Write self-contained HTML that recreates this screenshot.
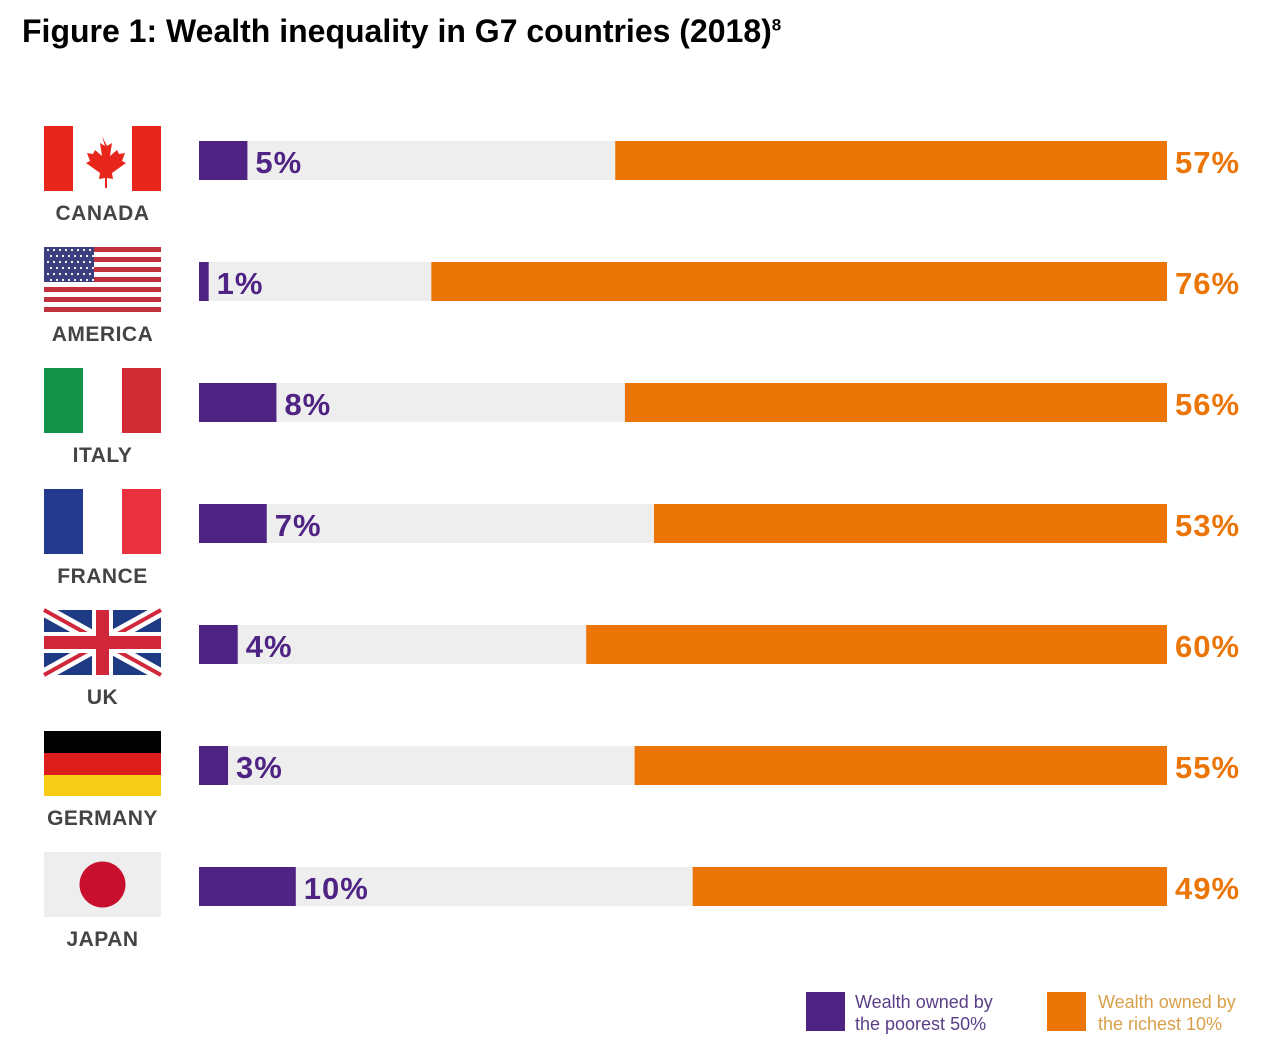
<!DOCTYPE html>
<html><head><meta charset="utf-8"><style>
body{margin:0;background:#fff;width:1267px;height:1060px;overflow:hidden;font-family:"Liberation Sans",sans-serif}
#title{position:absolute;left:22px;top:13px;font-size:32px;font-weight:bold;color:#000}
#title sup{font-size:17px}
</style></head><body>
<div id="title">Figure 1: Wealth inequality in G7 countries (2018)<sup>8</sup></div>
<svg id="chart" width="1267" height="1060" style="position:absolute;left:0;top:0"></svg>
<script>
const countries=["CANADA","AMERICA","ITALY","FRANCE","UK","GERMANY","JAPAN"];
const poorest=[5,1,8,7,4,3,10];
const richest=[57,76,56,53,60,55,49];
const NS="http://www.w3.org/2000/svg";
const svg=document.getElementById('chart');
const x0=199,x1=1167;
const xs=v=>v/100*(x1-x0);
const rowY=i=>141+i*121;
function el(t,a,p){const e=document.createElementNS(NS,t);for(const k in a)e.setAttribute(k,a[k]);(p||svg).appendChild(e);return e;}
function flag(i,g){
  const X=44,Y=126+i*121,W=117,H=65;
  if(i===0){el('rect',{x:X,y:Y,width:W,height:H,fill:'#fff'},g);el('rect',{x:X,y:Y,width:29,height:H,fill:'#e8261c'},g);el('rect',{x:X+88,y:Y,width:29,height:H,fill:'#e8261c'},g);
    el('path',{d:`M${X+58} ${Y+10} l5 10 5-3 -2 13 7-6 2 4 6-1 -3 8 4 2 -14 10 1 6 -6-1 0 10 -2 0 0-10 -6 1 1-6 -14-10 4-2 -3-8 6 1 2-4 7 6 -2-13 5 3z`,fill:'#e8261c'},g);}
  else if(i===1){for(let s=0;s<13;s++)el('rect',{x:X,y:Y+s*H/13,width:W,height:H/13,fill:s%2?'#fff':'#c0313d'},g);
    el('rect',{x:X,y:Y,width:50,height:35,fill:'#3c3f7e'},g);
    for(let r=0;r<6;r++)for(let c=0;c<8;c++)el('circle',{cx:X+4+c*6+(r%2)*3,cy:Y+3+r*6,r:1.1,fill:'#fff'},g);}
  else if(i===2){el('rect',{x:X,y:Y,width:39,height:H,fill:'#13934a'},g);el('rect',{x:X+39,y:Y,width:39,height:H,fill:'#fff'},g);el('rect',{x:X+78,y:Y,width:39,height:H,fill:'#d12b36'},g);}
  else if(i===3){el('rect',{x:X,y:Y,width:39,height:H,fill:'#233a8e'},g);el('rect',{x:X+39,y:Y,width:39,height:H,fill:'#fff'},g);el('rect',{x:X+78,y:Y,width:39,height:H,fill:'#e9303e'},g);}
  else if(i===4){el('rect',{x:X,y:Y,width:W,height:H,fill:'#1f3a84'},g);
    el('path',{d:`M${X} ${Y}L${X+W} ${Y+H}M${X+W} ${Y}L${X} ${Y+H}`,stroke:'#fff',"stroke-width":13},g);
    el('path',{d:`M${X} ${Y}L${X+W} ${Y+H}M${X+W} ${Y}L${X} ${Y+H}`,stroke:'#d0283a',"stroke-width":4},g);
    el('rect',{x:X+48,y:Y,width:21,height:H,fill:'#fff'},g);el('rect',{x:X,y:Y+22,width:W,height:21,fill:'#fff'},g);
    el('rect',{x:X+52,y:Y,width:13,height:H,fill:'#d0283a'},g);el('rect',{x:X,y:Y+26,width:W,height:13,fill:'#d0283a'},g);}
  else if(i===5){el('rect',{x:X,y:Y,width:W,height:22,fill:'#000'},g);el('rect',{x:X,y:Y+22,width:W,height:22,fill:'#dd1c1c'},g);el('rect',{x:X,y:Y+44,width:W,height:21,fill:'#f7cd17'},g);}
  else {el('rect',{x:X,y:Y,width:W,height:H,fill:'#eeeeee'},g);el('circle',{cx:X+58.5,cy:Y+32.5,r:23,fill:'#c8102e'},g);}
}
countries.forEach((c,i)=>{
  const y=rowY(i);
  const g=el('g',{});
  
  
  const fg=el('g',{},g);
  
  
  flag(i,fg);
  const lbl=el('text',{x:102.5,y:y+79,'text-anchor':'middle','font-size':21,'font-weight':'bold',fill:'#444','letter-spacing':'0.5'},g);
  lbl.textContent=c;
  
  
  const bg=el('rect',{x:x0,y:y,width:x1-x0,height:39,fill:'#eeeeee'},g);
  
  
  const pw=xs(poorest[i]);
  const pb=el('rect',{x:x0,y:y,width:pw,height:39,fill:'#4f2383'},g);
  
  
  const rw=xs(richest[i]);
  const rb=el('rect',{x:x1-rw,y:y,width:rw,height:39,fill:'#eb7506'},g);
  
  
  const pt=el('text',{x:x0+pw+8,y:y+32,'font-size':31,'font-weight':'bold',fill:'#4f2383','letter-spacing':'1'},g);
  pt.textContent=poorest[i]+'%';
  
  
  const rt=el('text',{x:1175,y:y+32,'font-size':31,'font-weight':'bold',fill:'#eb7506','letter-spacing':'1'},g);
  rt.textContent=richest[i]+'%';
  
  
});
const legend=[["#4f2383","#5a3f86","Wealth owned by","the poorest 50%",806,855],["#eb7506","#d9a04a","Wealth owned by","the richest 10%",1047,1098]];
legend.forEach((l,k)=>{
  const g=el('g',{});
  
  
  el('rect',{x:l[4],y:992,width:39,height:39,fill:l[0]},g);
  const t1=el('text',{x:l[5],y:1008,'font-size':18,fill:l[1]},g);t1.textContent=l[2];
  const t2=el('text',{x:l[5],y:1030,'font-size':18,fill:l[1]},g);t2.textContent=l[3];
});
</script>
</body></html>
